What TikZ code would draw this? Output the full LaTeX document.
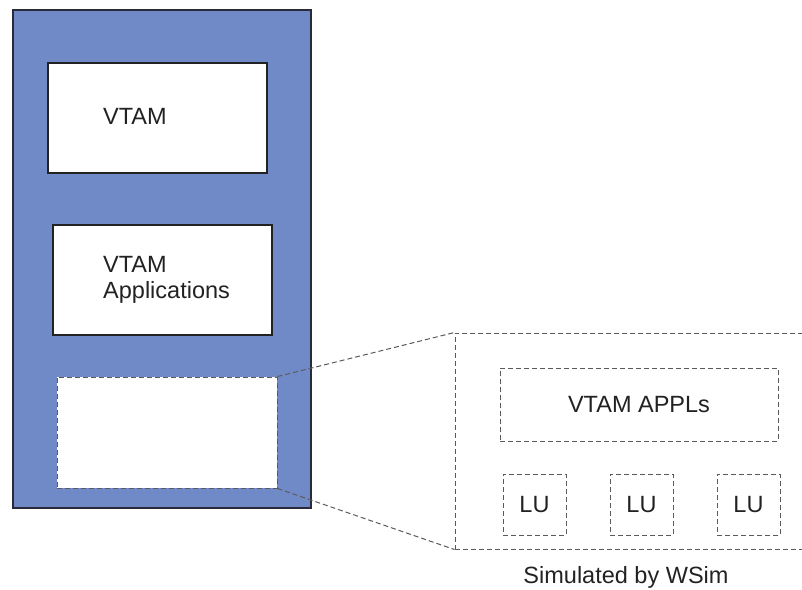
\documentclass[tikz,border=0pt]{standalone}
\usepackage{fontspec}
\setmainfont{Liberation Sans}
\usetikzlibrary{positioning}
\definecolor{hostblue}{RGB}{112,138,199}
\definecolor{hostedge}{RGB}{40,42,58}
\definecolor{edgegray}{RGB}{90,90,90}
\definecolor{inkgray}{RGB}{34,34,34}

\begin{document}
\begin{tikzpicture}[
  x=1pt,y=-1pt,
  node distance=43pt,
  box/.style={rectangle,draw=inkgray,line width=1.3pt,fill=white,minimum width=219pt,minimum height=110pt,inner sep=0pt},
  slot/.style={rectangle,draw=edgegray,line width=1pt,dash pattern=on 5pt off 3pt,fill=white,inner sep=0pt,text=inkgray,font=\fontsize{23.5}{26}\selectfont},
  lbl/.style={text=inkgray,font=\fontsize{23.5}{26}\selectfont,align=left,inner sep=0pt},
  zoomline/.style={draw=edgegray,line width=1pt,dash pattern=on 5pt off 3pt}
]
\useasboundingbox (0,0) rectangle (802,589);

% Host
\node[rectangle,draw=hostedge,line width=1.3pt,fill=hostblue,minimum width=298pt,minimum height=498pt,inner sep=0pt] (host) at (162,259) {};

% Boxes inside the host
\node[box] (vtam) at (157.5,118) {};
\node[lbl,anchor=west] (vtamlbl) at (103,116) {VTAM};
\node[box] (vtamapps) at (162.5,280) {};
\node[lbl,anchor=west] (vtamappslbl) at (103,280) {VTAM\\Applications};
\node[slot,minimum width=220pt,minimum height=111pt] (simslot) at (167,432.5) {};

% Zoomed view
\node[slot,minimum width=350pt,minimum height=216pt] (wsim) at (630,441) {};
\node[slot,minimum width=278pt,minimum height=73pt] (appls) at (639,404.5) {VTAM APPLs};
\node[slot,minimum width=63pt,minimum height=61pt] (lu1) at (534.5,504.5) {LU};
\node[slot,minimum width=63pt,minimum height=61pt,right=of lu1] (lu2) {LU};
\node[slot,minimum width=63pt,minimum height=61pt,right=of lu2] (lu3) {LU};
\node[lbl] (caption) at (626,577) {Simulated by WSim};

% Zoom lines
\draw[zoomline] (simslot.north east) -- (wsim.north west);
\draw[zoomline] (simslot.south east) -- (wsim.south west);

\end{tikzpicture}
\end{document}
